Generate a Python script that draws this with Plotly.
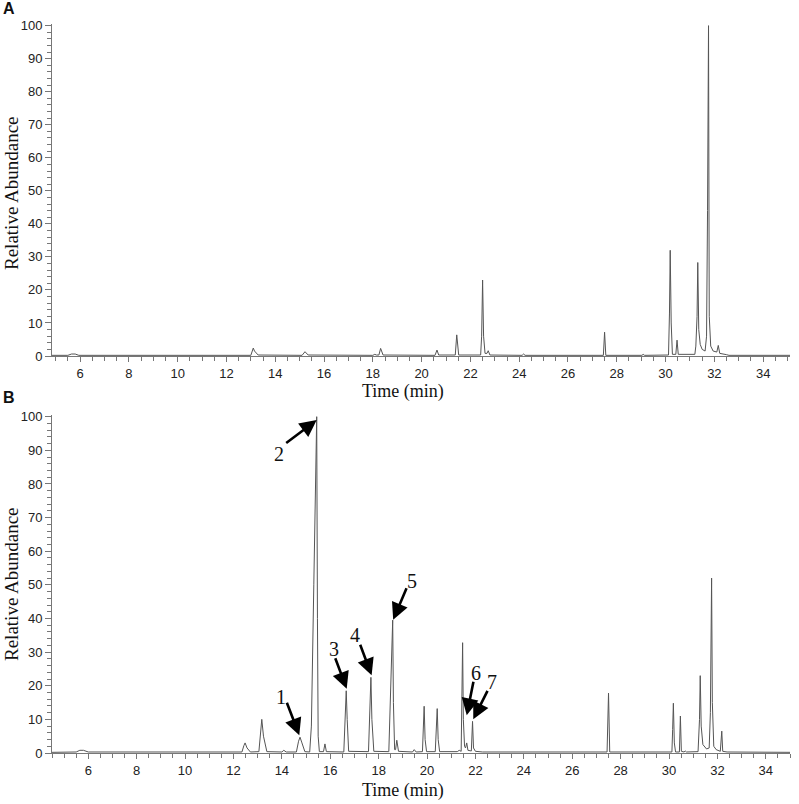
import plotly.graph_objects as go

# ---------------- data ----------------
# Panel A chromatogram: retention time (min) and relative abundance (%)
time_a = [4.85, 5.5, 5.65, 5.8, 5.95, 12.2, 12.35, 12.5, 13.0, 13.1, 13.15, 13.3,
          15.1, 15.22, 15.35, 18.0, 18.08, 18.15, 18.25, 18.32, 18.42,
          20.55, 20.63, 20.7, 21.38, 21.44, 21.47, 21.52,
          22.42, 22.46, 22.5, 22.54, 22.6, 22.68, 22.73, 22.8,
          24.12, 24.18, 24.24, 27.45, 27.5, 27.55, 29.03, 29.08, 29.14,
          30.12, 30.16, 30.19, 30.23, 30.28, 30.42, 30.47, 30.52,
          31.2, 31.24, 31.29, 31.32, 31.36, 31.42, 31.5, 31.62, 31.68, 31.72, 31.76,
          31.79, 31.85, 31.95, 32.1, 32.16, 32.22, 32.5, 32.6, 35.1]
abund_a = [0.2, 0.2, 0.6, 0.6, 0.2, 0.2, 0.4, 0.2, 0.2, 2.4, 1.5, 0.3,
           0.2, 1.3, 0.3, 0.2, 0.5, 0.3, 0.3, 2.3, 0.3,
           0.2, 1.8, 0.3, 0.3, 6.4, 3.0, 0.3,
           0.3, 6.0, 23.0, 6.0, 0.8, 0.8, 1.6, 0.3,
           0.2, 0.6, 0.2, 0.2, 7.2, 0.2, 0.2, 0.5, 0.2,
           0.3, 13.0, 32.0, 10.0, 0.5, 0.5, 4.8, 0.5,
           0.5, 3.0, 12.0, 28.3, 8.0, 3.5, 2.0, 1.5, 6.0, 44.0, 100.0,
           12.0, 3.0, 1.5, 1.2, 3.2, 0.8, 0.4, 0.2, 0.2]

# Panel B chromatogram
time_b = [4.5, 5.5, 5.65, 5.8, 6.0, 12.35, 12.43, 12.48, 12.56, 12.7,
          13.05, 13.13, 13.17, 13.24, 13.38, 14.0, 14.08, 14.18,
          14.6, 14.69, 14.75, 14.83, 14.95, 15.15, 15.22, 15.32, 15.39, 15.44, 15.47, 15.5, 15.55,
          15.72, 15.78, 15.84, 16.56, 16.61, 16.66, 16.7, 16.76,
          17.58, 17.63, 17.68, 17.72, 17.8, 18.42, 18.5, 18.58, 18.61, 18.66, 18.7, 18.75, 18.82,
          19.4, 19.47, 19.55, 19.81, 19.85, 19.88, 19.92, 19.98,
          20.34, 20.38, 20.42, 20.46, 20.52, 21.25, 21.33, 21.41, 21.44, 21.47, 21.5, 21.55, 21.59,
          21.64, 21.69, 21.83, 21.88, 21.92, 22.0, 22.3,
          27.44, 27.5, 27.55, 30.12, 30.15, 30.18, 30.22, 30.27, 30.43, 30.47, 30.51, 30.62, 30.67, 30.72,
          31.2, 31.24, 31.26, 31.29, 31.33, 31.4, 31.55, 31.66, 31.71, 31.76, 31.79, 31.85, 31.95,
          32.12, 32.18, 32.22, 32.4, 35.0]
abund_b = [0.2, 0.3, 0.8, 0.8, 0.3, 0.3, 2.2, 3.0, 1.5, 0.3,
           0.4, 8.0, 10.0, 5.0, 0.4, 0.3, 0.8, 0.3,
           0.3, 3.5, 4.7, 3.0, 0.4, 0.3, 8.0, 50.0, 78.0, 100.0, 40.0, 5.0, 0.4,
           0.4, 2.7, 0.4, 0.3, 10.0, 18.5, 10.0, 0.5,
           0.4, 12.0, 22.5, 10.0, 0.5, 0.4, 20.0, 39.5, 15.0, 1.0, 1.0, 3.8, 0.5,
           0.3, 1.0, 0.3, 0.4, 7.0, 13.9, 4.0, 0.4,
           0.4, 7.0, 13.2, 4.0, 0.4, 0.4, 0.8, 0.5, 12.0, 32.8, 10.0, 2.0, 1.5,
           3.0, 0.8, 0.6, 9.4, 1.5, 0.5, 0.3,
           0.3, 17.8, 0.3, 0.3, 7.0, 14.8, 3.0, 0.3, 0.3, 11.0, 0.5, 0.3, 0.6, 0.3,
           0.4, 8.0, 10.0, 23.0, 8.0, 2.5, 1.2, 1.5, 12.0, 52.0, 15.0, 2.0, 1.0,
           0.5, 6.5, 0.5, 0.3, 0.2]

# Labelled peaks in panel B: label, apex time, abundance at arrow tip
peak_labels = ["1", "2", "3", "4", "5", "6", "7"]
peak_times = [14.72, 15.44, 16.68, 17.71, 18.6, 21.64, 21.91]
peak_tips = [5.3, 99.0, 19.1, 23.1, 39.6, 11.2, 10.0]
# arrow tail offsets from the tip (pixels)
tail_dx = [-13, -32, -12, -12, 14, 7, 15]
tail_dy = [-34, 24, -32, -32, -33, -35, -30]
# label offsets from the tip (pixels)
label_dx = [-18, -38, -13, -17, 19, 9, 19]
label_dy = [-38, 34, -40, -40, -39, -42, -37]

x_ticks = [6, 8, 10, 12, 14, 16, 18, 20, 22, 24, 26, 28, 30, 32, 34]
y_ticks = [0, 10, 20, 30, 40, 50, 60, 70, 80, 90, 100]

# ---------------- figure ----------------
W, H = 799, 804
# reference pixel geometry (page coordinates)
P_LEFT, P_RIGHT = 52, 790
P_TOP_A, P_BOT_A = 24, 356
P_TOP_B, P_BOT_B = 415, 753
ML = P_LEFT
MR = W - P_RIGHT
MT = P_TOP_A
MB = H - P_BOT_B
plot_h = H - MT - MB
top_dom = [(P_BOT_B - P_BOT_A) / plot_h, 1.0]
bot_dom = [0.0, (P_BOT_B - P_TOP_B) / plot_h]

line_col = "#555555"
axis_col = "#777777"
tick_font = dict(family="Liberation Sans, Arial, sans-serif", size=13, color="#222222")
serif = "Liberation Serif, Times New Roman, serif"

fig = go.Figure()
fig.add_trace(go.Scatter(x=time_a, y=abund_a, mode="lines", line=dict(color=line_col, width=1),
                         xaxis="x", yaxis="y", showlegend=False, hoverinfo="skip"))
fig.add_trace(go.Scatter(x=time_b, y=abund_b, mode="lines", line=dict(color=line_col, width=1),
                         xaxis="x2", yaxis="y2", showlegend=False, hoverinfo="skip"))

def xax(rng, anchor):
    return dict(range=rng, anchor=anchor, tickmode="array", tickvals=x_ticks,
                ticktext=[str(v) for v in x_ticks], ticks="outside", ticklen=5, tickwidth=1,
                tickcolor=axis_col, showline=True, linecolor=axis_col, linewidth=1,
                showgrid=False, zeroline=False, tickfont=tick_font,
                minor=dict(dtick=0.5, tick0=0, ticks="outside", ticklen=4, tickcolor=axis_col, showgrid=False))

def yax(dom, anchor):
    return dict(domain=dom, range=[0, 100.5], anchor=anchor, tickmode="array", tickvals=y_ticks,
                ticks="outside", ticklen=6, tickwidth=1, tickcolor=axis_col, showline=True,
                linecolor=axis_col, linewidth=1, showgrid=False, zeroline=False, tickfont=tick_font,
                minor=dict(dtick=2, tick0=0, ticks="outside", ticklen=4, tickcolor=axis_col, showgrid=False))

fig.update_layout(
    width=W, height=H, autosize=False,
    margin=dict(l=ML, r=MR, t=MT, b=MB, pad=0),
    paper_bgcolor="white", plot_bgcolor="white",
    xaxis=xax([4.85, 35.1], "y"),
    yaxis=yax(top_dom, "x"),
    xaxis2=xax([4.5, 35.0], "y2"),
    yaxis2=yax(bot_dom, "x2"),
)

def px_to_paper(px, py):
    return (px - P_LEFT) / (P_RIGHT - P_LEFT), (P_BOT_B - py) / plot_h

annots = []
for letter, (px, py) in [("A", (9, 9)), ("B", (9, 397))]:
    x, y = px_to_paper(px, py)
    annots.append(dict(text="<b>%s</b>" % letter, x=x, y=y, xref="paper", yref="paper",
                       showarrow=False, xanchor="center", yanchor="middle",
                       font=dict(family="Liberation Sans, Arial, sans-serif", size=16, color="#111111")))
for (px, py) in [(403, 391), (403, 791)]:
    x, y = px_to_paper(px, py)
    annots.append(dict(text="Time (min)", x=x, y=y, xref="paper", yref="paper", showarrow=False,
                       xanchor="center", yanchor="middle", font=dict(family=serif, size=18, color="#111111")))
for (px, py) in [(11, 193), (11, 584)]:
    x, y = px_to_paper(px, py)
    annots.append(dict(text="Relative Abundance", x=x, y=y, xref="paper", yref="paper", showarrow=False,
                       textangle=-90, xanchor="center", yanchor="middle",
                       font=dict(family=serif, size=19, color="#111111")))
for lab, t, v, tdx, tdy, ldx, ldy in zip(peak_labels, peak_times, peak_tips,
                                         tail_dx, tail_dy, label_dx, label_dy):
    # arrow only
    annots.append(dict(text="", x=t, y=v, xref="x2", yref="y2", ax=tdx, ay=tdy,
                       showarrow=True, arrowhead=2, arrowsize=1.3, arrowwidth=2.6, arrowcolor="#000000",
                       standoff=0, startstandoff=0))
    # label
    annots.append(dict(text=lab, x=t, y=v, xref="x2", yref="y2", showarrow=False,
                       xshift=ldx, yshift=-ldy, xanchor="center", yanchor="middle",
                       font=dict(family=serif, size=20, color="#111111")))
fig.update_layout(annotations=annots)

fig.write_html("out.html", config={"displayModeBar": False},
               post_script="document.body.style.margin='0';document.body.style.overflow='hidden';")
